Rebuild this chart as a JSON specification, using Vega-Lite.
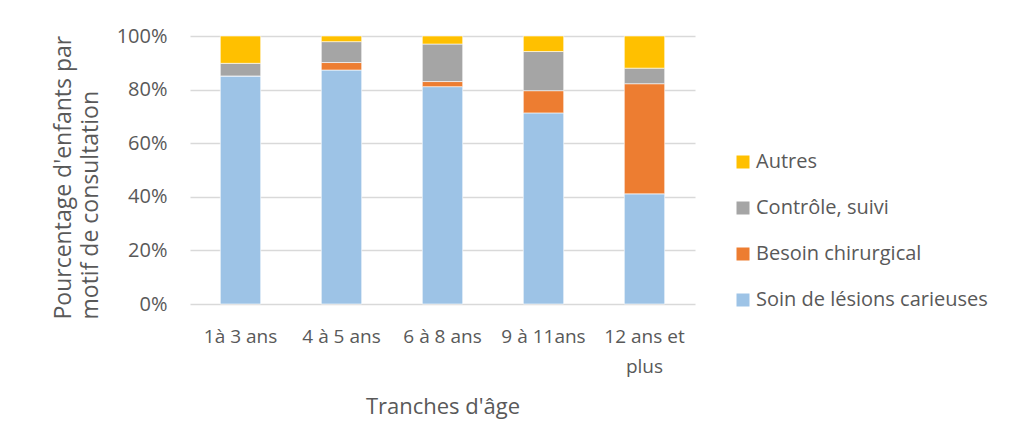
{
  "$schema": "https://vega.github.io/schema/vega-lite/v6.json",
  "autosize": "none",
  "width": 505,
  "height": 268,
  "padding": {"left": 190, "top": 36, "right": 315, "bottom": 143},
  "background": "#ffffff",
  "config": {
    "view": {"stroke": null},
    "font": "Open Sans"
  },
  "data": {
    "values": [
      {"tranche": "1à 3 ans", "motif": "Soin de lésions carieuses", "pct": 0.851},
      {"tranche": "1à 3 ans", "motif": "Besoin chirurgical", "pct": 0.0},
      {"tranche": "1à 3 ans", "motif": "Contrôle, suivi", "pct": 0.047},
      {"tranche": "1à 3 ans", "motif": "Autres", "pct": 0.102},
      {"tranche": "4 à 5 ans", "motif": "Soin de lésions carieuses", "pct": 0.873},
      {"tranche": "4 à 5 ans", "motif": "Besoin chirurgical", "pct": 0.028},
      {"tranche": "4 à 5 ans", "motif": "Contrôle, suivi", "pct": 0.078},
      {"tranche": "4 à 5 ans", "motif": "Autres", "pct": 0.021},
      {"tranche": "6 à 8 ans", "motif": "Soin de lésions carieuses", "pct": 0.811},
      {"tranche": "6 à 8 ans", "motif": "Besoin chirurgical", "pct": 0.019},
      {"tranche": "6 à 8 ans", "motif": "Contrôle, suivi", "pct": 0.140},
      {"tranche": "6 à 8 ans", "motif": "Autres", "pct": 0.030},
      {"tranche": "9 à 11ans", "motif": "Soin de lésions carieuses", "pct": 0.713},
      {"tranche": "9 à 11ans", "motif": "Besoin chirurgical", "pct": 0.083},
      {"tranche": "9 à 11ans", "motif": "Contrôle, suivi", "pct": 0.146},
      {"tranche": "9 à 11ans", "motif": "Autres", "pct": 0.058},
      {"tranche": "12 ans et plus", "motif": "Soin de lésions carieuses", "pct": 0.411},
      {"tranche": "12 ans et plus", "motif": "Besoin chirurgical", "pct": 0.411},
      {"tranche": "12 ans et plus", "motif": "Contrôle, suivi", "pct": 0.058},
      {"tranche": "12 ans et plus", "motif": "Autres", "pct": 0.120}
    ]
  },
  "transform": [
    {"calculate": "indexof(['Soin de lésions carieuses','Besoin chirurgical','Contrôle, suivi','Autres'], datum.motif)", "as": "rang"}
  ],
  "mark": {"type": "bar", "stroke": "#ffffff", "strokeWidth": 0.6},
  "encoding": {
    "x": {
      "field": "tranche",
      "type": "nominal",
      "sort": ["1à 3 ans", "4 à 5 ans", "6 à 8 ans", "9 à 11ans", "12 ans et plus"],
      "scale": {"paddingInner": 0.6, "paddingOuter": 0.3},
      "axis": {
        "title": "Tranches d'âge",
        "titleFont": "Open Sans",
        "titleFontSize": 22,
        "titleFontWeight": "normal",
        "titleColor": "#595959",
        "titleBaseline": "middle",
        "titleY": 102,
        "labelAngle": 0,
        "labelFont": "Open Sans",
        "labelFontSize": 19,
        "labelColor": "#595959",
        "labelPadding": 23,
        "labelLineHeight": 30,
        "labelExpr": "datum.value == '12 ans et plus' ? ['12 ans et', 'plus'] : datum.value",
        "domain": false,
        "ticks": false
      }
    },
    "y": {
      "field": "pct",
      "type": "quantitative",
      "stack": "zero",
      "scale": {"domain": [0, 1]},
      "axis": {
        "title": ["Pourcentage d'enfants par", "motif de consultation"],
        "titleFont": "Open Sans",
        "titleFontSize": 23,
        "titleFontWeight": "normal",
        "titleColor": "#595959",
        "titleLineHeight": 27,
        "titleBaseline": "middle",
        "titleAlign": "left",
        "titleAngle": -90,
        "titleX": -127,
        "titleY": 283,
        "format": ".0%",
        "values": [0, 0.2, 0.4, 0.6, 0.8, 1],
        "labelFont": "Open Sans",
        "labelFontSize": 20,
        "labelColor": "#595959",
        "labelPadding": 23,
        "domain": false,
        "ticks": false,
        "grid": true,
        "gridColor": "#d9d9d9",
        "gridWidth": 1.3
      }
    },
    "color": {
      "field": "motif",
      "type": "nominal",
      "scale": {
        "domain": ["Autres", "Contrôle, suivi", "Besoin chirurgical", "Soin de lésions carieuses"],
        "range": ["#FFC000", "#A5A5A5", "#ED7D31", "#9DC3E6"]
      },
      "legend": {
        "title": null,
        "orient": "none",
        "legendX": 543,
        "legendY": 116,
        "symbolType": "square",
        "symbolSize": 169,
        "symbolStrokeWidth": 0,
        "labelFont": "Open Sans",
        "labelFontSize": 20,
        "labelColor": "#595959",
        "labelOffset": 3,
        "rowPadding": 26,
        "labelLimit": 400
      }
    },
    "order": {"field": "rang", "type": "quantitative"}
  }
}
